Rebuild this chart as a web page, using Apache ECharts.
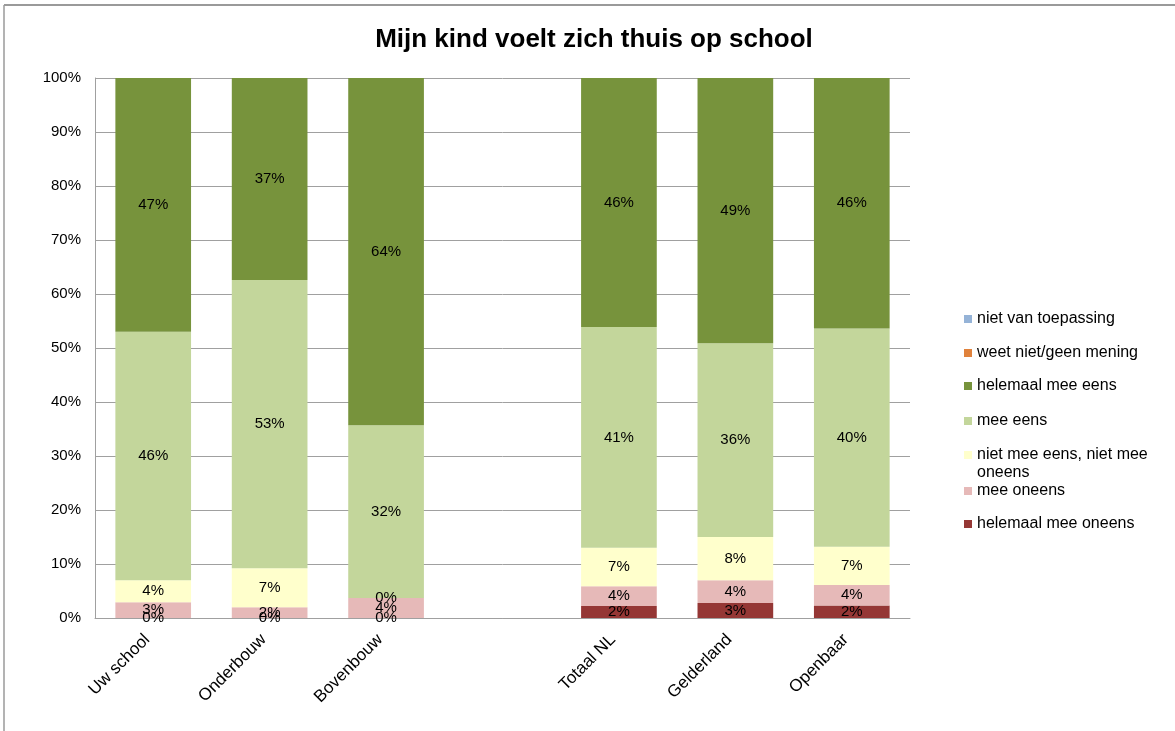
<!DOCTYPE html>
<html>
<head>
  <meta charset="utf-8">
  <title>Mijn kind voelt zich thuis op school</title>
  <script src="https://cdn.jsdelivr.net/npm/echarts@6/dist/echarts.min.js"></script>
  <style>
    html, body { margin: 0; padding: 0; background: #fff; }
  </style>
</head>
<body>
  <div id="main" style="width: 1175px;height:731px;"></div>
  <script type="text/javascript">
    var categories = ['Uw school', 'Onderbouw', 'Bovenbouw', '', 'Totaal NL', 'Gelderland', 'Openbaar'];

    // percentages per answer, '-' for the empty spacer column
    var helemaalMeeOneens = [0, 0, 0, '-', 2.2, 2.8, 2.3];
    var meeOneens = [2.9, 2.0, 3.7, '-', 3.7, 4.2, 3.8];
    var nietMeeEensNietMeeOneens = [4.1, 7.2, 0, '-', 7.1, 8.0, 7.1];
    var meeEens = [46.0, 53.4, 32.0, '-', 40.9, 35.9, 40.4];
    var helemaalMeeEens = [47.0, 37.4, 64.3, '-', 46.1, 49.1, 46.4];
    var weetNiet = ['-', '-', '-', '-', '-', '-', '-'];
    var nietVanToepassing = ['-', '-', '-', '-', '-', '-', '-'];

    var yTicks = ['0%', '10%', '20%', '30%', '40%', '50%', '60%', '70%', '80%', '90%', '100%'];

    // legend order, top to bottom
    var legendNames = ['niet van toepassing', 'weet niet/geen mening', 'helemaal mee eens', 'mee eens',
                       'niet mee eens, niet mee oneens', 'mee oneens', 'helemaal mee oneens'];

    var myChart = echarts.init(document.getElementById('main'));

    var font = 'Liberation Sans, Arial, sans-serif';

    function barSeries(name, data, color, showLabel) {
      return {
        name: name,
        type: 'bar',
        stack: 'total',
        data: data,
        barCategoryGap: '35%',
        itemStyle: { color: color },
        label: {
          show: showLabel,
          position: 'inside',
          color: '#000',
          fontFamily: font,
          fontSize: 15,
          formatter: function (p) { return Math.round(p.value) + '%'; }
        }
      };
    }

    // one legend block per entry so the wrapped entry does not push the rest down
    var legendTops = [310, 344, 377, 412, 446, 482, 515];
    var legends = legendNames.map(function (n, i) {
      var wrapped = n === 'niet mee eens, niet mee oneens';
      return {
        orient: 'vertical',
        left: 964,
        top: legendTops[i],
        padding: 0,
        itemWidth: 8,
        itemHeight: wrapped ? 26 : 8,
        // wrapped entry: square sits at the top so it lines up with the first text line
        icon: wrapped ? 'path://M0,0h8v8h-8zM0,25.99h0.01v0.01h-0.01z' : 'rect',
        textStyle: { fontFamily: font, fontSize: 16, color: '#000', lineHeight: 18 },
        data: [n],
        formatter: function (name) {
          return wrapped ? 'niet mee eens, niet mee\noneens' : name;
        }
      };
    });

    var option = {
      animation: false,
      backgroundColor: '#fff',
      textStyle: { fontFamily: font },
      title: {
        text: 'Mijn kind voelt zich thuis op school',
        left: 589,
        textAlign: 'center',
        top: 22,
        textStyle: { fontFamily: font, fontSize: 26, fontWeight: 'bold', color: '#000' }
      },
      graphic: [
        { type: 'line', shape: { x1: 4, y1: 5, x2: 1175, y2: 5 }, style: { stroke: '#9a9a9a', lineWidth: 2 } },
        { type: 'line', shape: { x1: 4, y1: 5, x2: 4, y2: 731 }, style: { stroke: '#9a9a9a', lineWidth: 1.5 } }
      ],
      legend: legends,
      grid: { left: 95, right: 265, top: 78, bottom: 113 },
      xAxis: {
        type: 'category',
        data: categories,
        axisLine: { lineStyle: { color: '#a0a0a0' } },
        axisTick: { show: false },
        axisLabel: {
          rotate: 45,
          interval: 0,
          color: '#000',
          fontFamily: font,
          fontSize: 17,
          margin: 25,
          verticalAlign: 'bottom'
        }
      },
      yAxis: {
        type: 'value',
        min: 0,
        max: 100,
        interval: 10,
        axisLine: { show: true, lineStyle: { color: '#a0a0a0' } },
        axisTick: { show: false },
        splitLine: { lineStyle: { color: '#a0a0a0' } },
        axisLabel: {
          color: '#000',
          fontFamily: font,
          fontSize: 15,
          margin: 14,
          formatter: function (v) { return yTicks[Math.round(v / 10)]; }
        }
      },
      series: [
        barSeries('helemaal mee oneens', helemaalMeeOneens, '#953735', true),
        barSeries('mee oneens', meeOneens, '#E6B9B8', true),
        barSeries('niet mee eens, niet mee oneens', nietMeeEensNietMeeOneens, '#FFFFCC', true),
        barSeries('mee eens', meeEens, '#C3D69B', true),
        barSeries('helemaal mee eens', helemaalMeeEens, '#77933C', true),
        barSeries('weet niet/geen mening', weetNiet, '#E0823C', false),
        barSeries('niet van toepassing', nietVanToepassing, '#95B3D7', false)
      ]
    };

    myChart.setOption(option);
  </script>
</body>
</html>
